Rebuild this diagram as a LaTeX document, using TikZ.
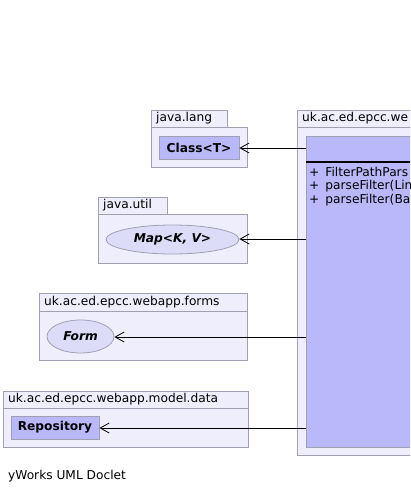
\documentclass[tikz,border=0pt]{standalone}
\usepackage{fontspec}
\setmainfont{DejaVu Sans}
\usetikzlibrary{arrows.meta,shapes.geometric}
\definecolor{pkgfill}{RGB}{238,238,252}
\definecolor{pkgline}{RGB}{160,160,180}
\definecolor{clsfill}{RGB}{184,184,250}
\definecolor{iffill}{RGB}{220,220,248}
\newcommand{\dsize}{\fontsize{12.2}{14}\selectfont}
\tikzset{
  pkg/.style={draw=pkgline, fill=pkgfill, line width=0.8pt},
  cls/.style={draw=pkgline, fill=clsfill, line width=0.8pt, rectangle, inner sep=0pt, font=\dsize\bfseries},
  iface/.style={draw=pkgline, fill=iffill, line width=0.8pt, ellipse, inner sep=0pt, font=\dsize\bfseries\itshape},
  lbl/.style={anchor=west, inner sep=0pt, font=\dsize},
  dep/.style={line width=0.8pt, -{Straight Barb[length=9pt,width=10pt,line width=0.8pt]}},
}
\begin{document}
\begin{tikzpicture}[x=1pt,y=-1pt,font=\dsize]
\useasboundingbox (0,0) rectangle (410,493);
\clip (0,0) rectangle (410,493);
% java.lang
\draw[pkg] (151,110) rectangle (227,127);
\draw[pkg] (151,127) rectangle (247,167);
\node[lbl] (tlang) at (156,118.5) {java.lang};
\node[cls, minimum width=80pt, minimum height=23pt] (classT) at (199,147.5) {Class<T>};
% java.util
\draw[pkg] (98,197) rectangle (167,214);
\draw[pkg] (98,214) rectangle (247,263);
\node[lbl] (tutil) at (103,205.5) {java.util};
\node[iface, minimum width=133pt, minimum height=29pt] (map) at (172.5,239.5) {Map<K, V>};
% forms
\draw[pkg] (39,293) rectangle (247,311);
\draw[pkg] (39,311) rectangle (247,360);
\node[lbl] (tforms) at (44,302) {uk.ac.ed.epcc.webapp.forms};
\node[iface, minimum width=67pt, minimum height=33pt] (form) at (80.5,336.5) {Form};
% model.data
\draw[pkg] (3,391) rectangle (248,408);
\draw[pkg] (3,408) rectangle (248,447);
\node[lbl] (tdata) at (8,399.5) {uk.ac.ed.epcc.webapp.model.data};
\node[cls, minimum width=88pt, minimum height=23pt] (repo) at (55,427.5) {Repository};
% main package
\draw[pkg] (297,110) rectangle (430,127);
\draw[pkg] (297,127) rectangle (430,455);
\node[lbl] (tmain) at (302,118.5) {uk.ac.ed.epcc.we};
\node[cls, minimum width=124pt, minimum height=311pt, anchor=north west] (main) at (306,136) {};
\draw[line width=1.6pt] (306,162) -- (430,162);
\node[lbl] (m1) at (309,172) {+\hspace{6pt}FilterPathPars};
\node[lbl] (m2) at (309,186) {+\hspace{6pt}parseFilter(Lin};
\node[lbl] (m3) at (309,200) {+\hspace{6pt}parseFilter(Ba};
% dependencies
\coordinate (s1) at (306,148);
\coordinate (s2) at (306,239);
\coordinate (s3) at (306,337);
\coordinate (s4) at (306,428);
\draw[dep] (s1) -- (classT.east |- s1);
\draw[dep] (s2) -- (map.east |- s2);
\draw[dep] (s3) -- (form.east |- s3);
\draw[dep] (s4) -- (repo.east |- s4);
% footer
\node[lbl] (foot) at (8,476) {yWorks UML Doclet};
\end{tikzpicture}
\end{document}
